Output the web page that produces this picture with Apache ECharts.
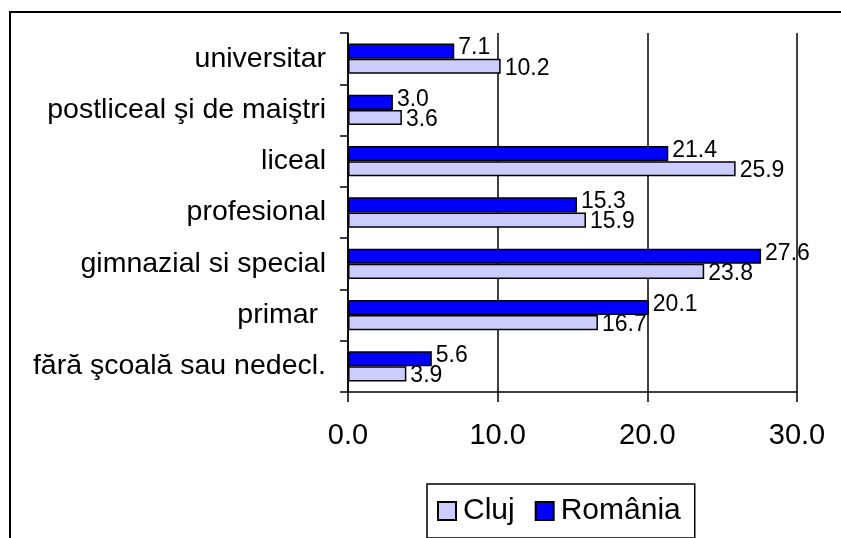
<!DOCTYPE html>
<html>
<head>
<meta charset="utf-8">
<script src="https://cdn.jsdelivr.net/npm/echarts@6/dist/echarts.min.js"></script>
<style>
  html, body { margin: 0; padding: 0; background: #fff; }
  #chart { width: 841px; height: 538px; }
</style>
</head>
<body>
<div id="chart"></div>
<script>
// categories listed top to bottom, as in the picture
const categories = ['universitar', 'postliceal şi de maiştri', 'liceal', 'profesional',
  'gimnazial si special', 'primar ', 'fără şcoală sau nedecl.']
const romania = [7.1, 3.0, 21.4, 15.3, 27.6, 20.1, 5.6]
const cluj = [10.2, 3.6, 25.9, 15.9, 23.8, 16.7, 3.9]
const xTicks = [0, 10, 20, 30]

const font = 'Arial, "Liberation Sans", sans-serif'

const chart = echarts.init(document.getElementById('chart'))

function valueLabel(dy) {
  return {
    show: true,
    position: 'right',
    distance: 4,
    offset: [0, dy],
    color: '#000',
    fontFamily: font,
    fontSize: 23,
    formatter: p => p.value.toFixed(1)
  }
}

chart.setOption({
  animation: false,
  textStyle: { fontFamily: font, color: '#000' },
  graphic: [{
    type: 'rect',
    shape: { x: 10, y: 12, width: 900, height: 600 },
    style: { fill: 'none', stroke: '#000', lineWidth: 2 },
    silent: true
  }],
  grid: { left: 348, right: 44, top: 33, bottom: 146 },
  legend: {
    left: 427,
    top: 484,
    width: 280,
    padding: [12, 14, 12, 10],
    borderColor: '#000',
    borderWidth: 1.5,
    itemWidth: 18,
    itemHeight: 18,
    itemGap: 20,
    icon: 'rect',
    data: ['Cluj', 'România'],
    textStyle: { fontSize: 30, color: '#000', fontFamily: font, padding: [0, 0, 0, 2] }
  },
  xAxis: {
    type: 'value',
    min: xTicks[0],
    max: xTicks[xTicks.length - 1],
    interval: 10,
    axisLine: { show: true, lineStyle: { color: '#000', width: 1.5 } },
    axisTick: { show: true, length: 10, lineStyle: { color: '#000', width: 1.5 } },
    splitLine: { show: true, lineStyle: { color: '#000', width: 1.5 } },
    axisLabel: {
      color: '#000', fontSize: 29, fontFamily: font, margin: 29,
      formatter: v => v.toFixed(1)
    }
  },
  yAxis: {
    type: 'category',
    inverse: true,
    data: categories,
    axisLine: { show: true, lineStyle: { color: '#000', width: 1.5 } },
    axisTick: { show: true, length: 8, lineStyle: { color: '#000', width: 1.5 } },
    axisLabel: { color: '#000', fontSize: 28.5, fontFamily: font, margin: 22 }
  },
  series: [
    {
      name: 'România',
      type: 'bar',
      data: romania,
      barGap: '0%',
      barCategoryGap: '41%',
      itemStyle: { color: '#0000FF', borderColor: '#000', borderWidth: 1.5 },
      label: valueLabel(-3)
    },
    {
      name: 'Cluj',
      type: 'bar',
      data: cluj,
      barGap: '0%',
      barCategoryGap: '41%',
      itemStyle: { color: '#CCCCFF', borderColor: '#000', borderWidth: 1.5 },
      label: valueLabel(2)
    }
  ]
})
</script>
</body>
</html>
